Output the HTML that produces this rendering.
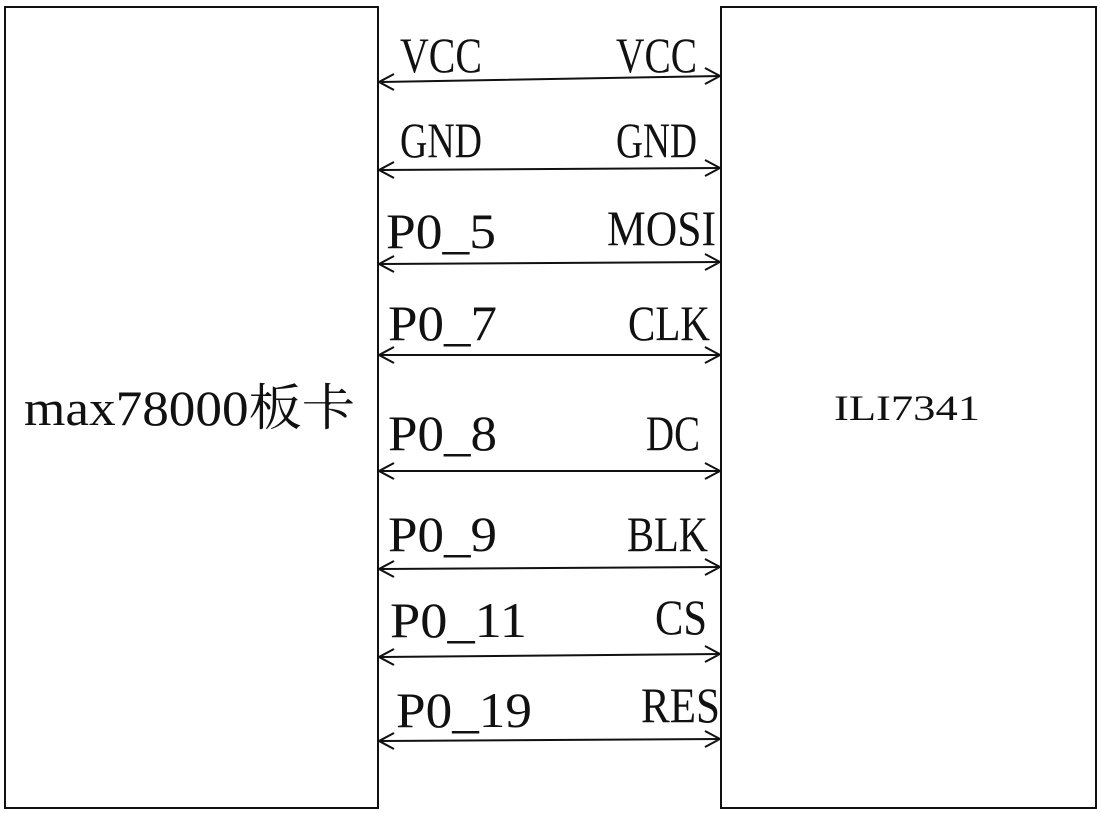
<!DOCTYPE html>
<html><head><meta charset="utf-8"><style>html,body{margin:0;padding:0;background:#fff}svg{display:block}</style></head>
<body>
<svg width="1100" height="813" viewBox="0 0 1100 813" xmlns="http://www.w3.org/2000/svg">
<g fill="none" stroke="#111" stroke-width="2">
<rect x="5" y="7" width="373" height="801"/>
<rect x="721" y="7" width="375" height="801"/>
<path d="M378 82 L721 76 M394 74 L379 82 L394 90 M705 68 L720 76 L705 84"/>
<path d="M378 170 L721 168 M394 162 L379 170 L394 178 M705 160 L720 168 L705 176"/>
<path d="M378 264 L721 262 M394 256 L379 264 L394 272 M705 254 L720 262 L705 270"/>
<path d="M378 355 L721 355 M394 347 L379 355 L394 363 M705 347 L720 355 L705 363"/>
<path d="M378 471 L721 471 M394 463 L379 471 L394 479 M705 463 L720 471 L705 479"/>
<path d="M378 569 L721 567 M394 561 L379 569 L394 577 M705 559 L720 567 L705 575"/>
<path d="M378 657 L721 654 M394 649 L379 657 L394 665 M705 646 L720 654 L705 662"/>
<path d="M378 741 L721 739 M394 733 L379 741 L394 749 M705 731 L720 739 L705 747"/>
</g>
<g font-family="Liberation Serif, Noto Serif CJK SC, serif" font-size="50" fill="#111">
<text x="400" y="72" textLength="82" lengthAdjust="spacingAndGlyphs">VCC</text>
<text x="400" y="157" textLength="82" lengthAdjust="spacingAndGlyphs">GND</text>
<text x="386" y="248" textLength="110" lengthAdjust="spacingAndGlyphs">P0_5</text>
<text x="388" y="340" textLength="109" lengthAdjust="spacingAndGlyphs">P0_7</text>
<text x="388" y="450" textLength="109" lengthAdjust="spacingAndGlyphs">P0_8</text>
<text x="388" y="551" textLength="109" lengthAdjust="spacingAndGlyphs">P0_9</text>
<text x="390" y="637" textLength="137" lengthAdjust="spacingAndGlyphs">P0_11</text>
<text x="396" y="727" textLength="136" lengthAdjust="spacingAndGlyphs">P0_19</text>
<text x="616" y="72" textLength="81" lengthAdjust="spacingAndGlyphs">VCC</text>
<text x="616" y="157" textLength="81" lengthAdjust="spacingAndGlyphs">GND</text>
<text x="607" y="245" textLength="109" lengthAdjust="spacingAndGlyphs">MOSI</text>
<text x="628" y="340" textLength="82" lengthAdjust="spacingAndGlyphs">CLK</text>
<text x="646" y="450" textLength="54" lengthAdjust="spacingAndGlyphs">DC</text>
<text x="627" y="551" textLength="81" lengthAdjust="spacingAndGlyphs">BLK</text>
<text x="655" y="634" textLength="52" lengthAdjust="spacingAndGlyphs">CS</text>
<text x="641" y="722" textLength="79" lengthAdjust="spacingAndGlyphs">RES</text>
<text x="24" y="425" textLength="331" lengthAdjust="spacingAndGlyphs">max78000板卡</text>
<text x="834" y="420" font-size="36" textLength="146" lengthAdjust="spacingAndGlyphs">ILI7341</text>
</g>
</svg>
</body></html>
